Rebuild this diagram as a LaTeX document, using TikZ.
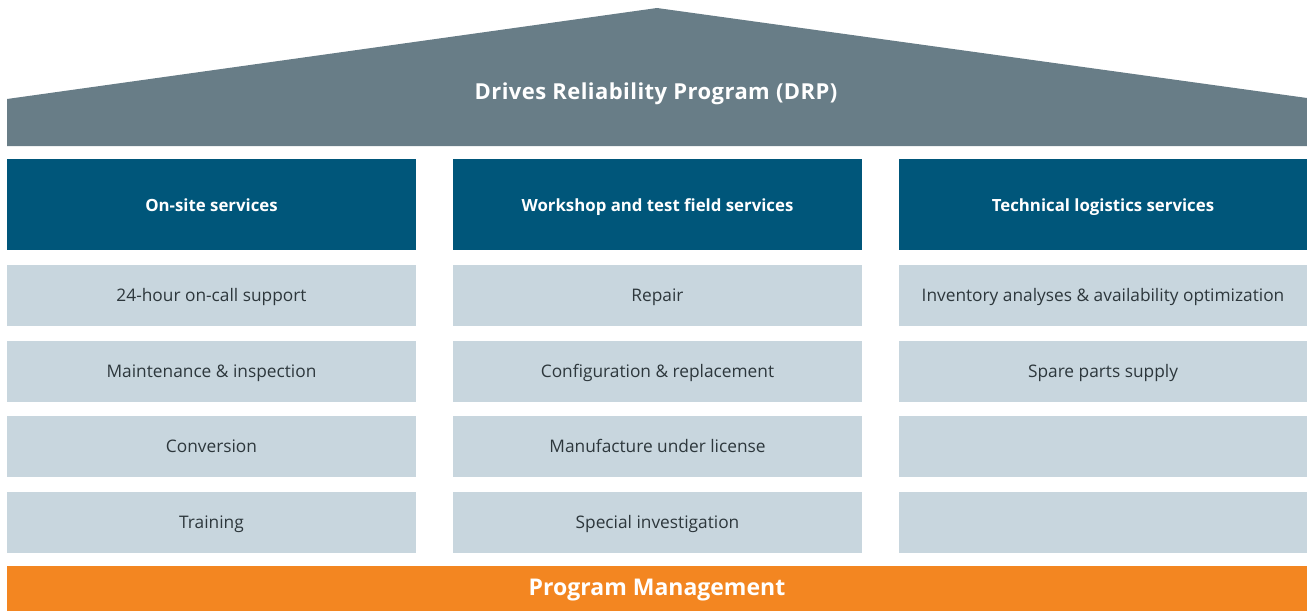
\documentclass[tikz,border=0pt]{standalone}
\usepackage{fontspec}
\setmainfont{Open Sans}
\definecolor{roofc}{HTML}{687D87}
\definecolor{headc}{HTML}{00567A}
\definecolor{rowc}{HTML}{C8D6DE}
\definecolor{orangec}{HTML}{F38621}
\definecolor{txtc}{HTML}{2D373C}
\newcommand{\bl}[2]{\raisebox{-#1pt}[0pt][0pt]{#2}}
\tikzset{
  headbox/.style={fill=headc, text=white, inner sep=0pt, minimum width=409pt, minimum height=91pt, font=\fontsize{16.8}{19}\selectfont\bfseries},
  rowbox/.style={fill=rowc, text=txtc, inner sep=0pt, minimum width=409pt, minimum height=61pt, font=\fontsize{17.3}{20}\selectfont},
}
\begin{document}
\begin{tikzpicture}[x=1pt,y=-1pt]
\useasboundingbox (0,0) rectangle (1307,611);
% roof
\fill[roofc] (7,146) -- (7,99) -- (657,8) -- (1307,98) -- (1307,146) -- cycle;
\node[text=white, inner sep=0pt, font=\fontsize{22}{24}\selectfont\bfseries\addfontfeatures{LetterSpace=2}] (title) at (656,92) {\bl{7.3}{Drives Reliability Program (DRP)}};
% headers
\node[headbox] (h1) at (211.5,204.5) {\bl{6.5}{On-site services}};
\node[headbox] (h2) at (657.5,204.5) {\bl{6.5}{Workshop and test field services}};
\node[headbox, minimum width=408pt] (h3) at (1103,204.5) {\bl{6.5}{Technical logistics services}};
% rows
\node[rowbox] (a1) at (211.5,295.5) {\bl{5.8}{24-hour on-call support}};
\node[rowbox] (a2) at (211.5,371.5) {\bl{5.8}{Maintenance \& inspection}};
\node[rowbox] (a3) at (211.5,446.5) {\bl{5.8}{Conversion}};
\node[rowbox] (a4) at (211.5,522.5) {\bl{5.8}{Training}};
\node[rowbox] (b1) at (657.5,295.5) {\bl{5.8}{Repair}};
\node[rowbox] (b2) at (657.5,371.5) {\bl{5.8}{Configuration \& replacement}};
\node[rowbox] (b3) at (657.5,446.5) {\bl{5.8}{Manufacture under license}};
\node[rowbox] (b4) at (657.5,522.5) {\bl{5.8}{Special investigation}};
\node[rowbox, minimum width=408pt] (c1) at (1103,295.5) {\bl{5.8}{Inventory analyses \& availability optimization}};
\node[rowbox, minimum width=408pt] (c2) at (1103,371.5) {\bl{5.8}{Spare parts supply}};
\node[rowbox, minimum width=408pt] (c3) at (1103,446.5) {};
\node[rowbox, minimum width=408pt] (c4) at (1103,522.5) {};
% program management
\node[fill=orangec, text=white, inner sep=0pt, minimum width=1300pt, minimum height=45pt, font=\fontsize{23}{26}\selectfont\bfseries] (pm) at (657,588.5) {\bl{7}{Program Management}};
\end{tikzpicture}
\end{document}
